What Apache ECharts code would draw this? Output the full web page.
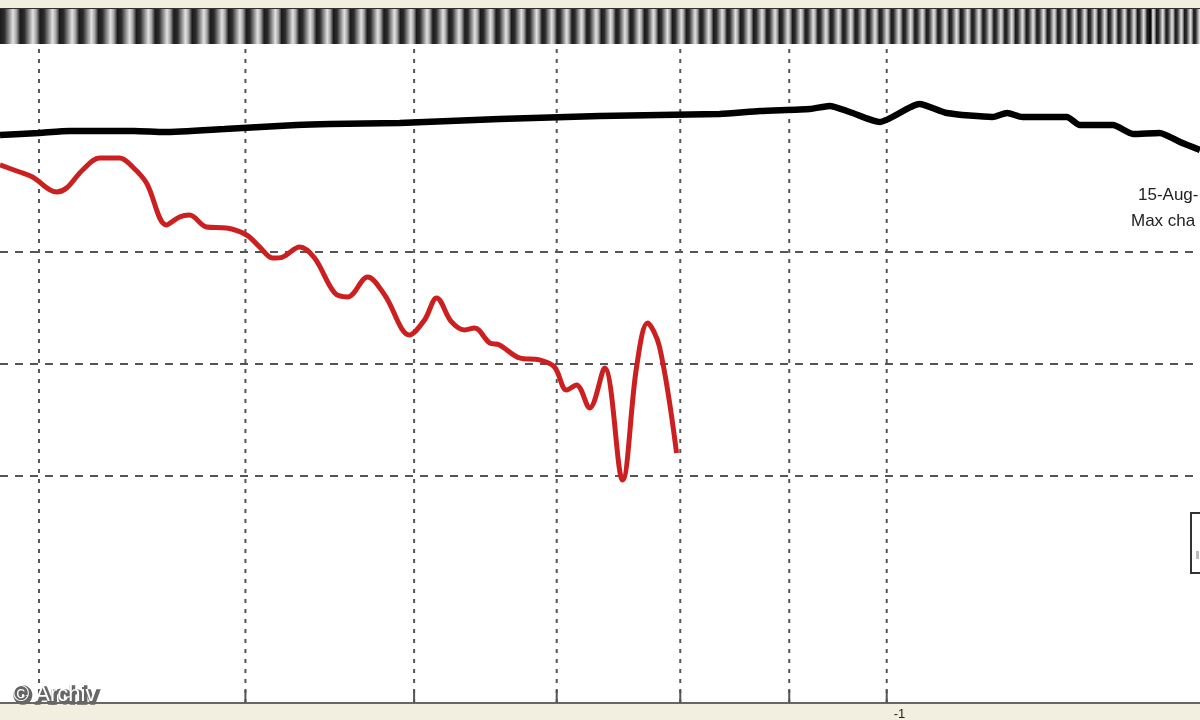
<!DOCTYPE html>
<html>
<head>
<meta charset="utf-8">
<script src="https://cdn.jsdelivr.net/npm/echarts@6/dist/echarts.min.js"></script>
<style>
html,body{margin:0;padding:0;background:#f2eee0;}
#chart{width:1200px;height:720px;}
</style>
</head>
<body>
<div id="chart"></div>
<script>
// ---- data ----
const xMin = 0.03835, xMax = 0.1403;
const yMin = -0.27, yMax = 58.57;

const gridX = [0.04, 0.05, 0.06, 0.07, 0.08, 0.09, 0.1];
const gridY = [20, 30, 40];

const blackX = [0.03835,0.04,0.04135,0.04434,0.0458,0.04888,0.05284,0.05476,0.05907,0.0658,0.07332,0.08347,0.08719,0.09202,0.09402,0.09608,0.09925,0.1036,0.1067,0.1121,0.1139,0.1158,0.1215,0.1232,0.1277,0.1305,0.1343,0.1373,0.1403];
const blackY = [50.45,50.63,50.80,50.80,50.71,50.98,51.34,51.43,51.52,51.88,52.14,52.32,52.59,52.77,53.04,52.50,51.61,53.21,52.41,52.05,52.41,52.05,52.05,51.34,51.34,50.54,50.63,49.82,49.11];

const redX = [0.03835,0.03917,0.03972,0.04077,0.04121,0.04193,0.04271,0.04364,0.04426,0.04493,0.04591,0.04656,0.04707,0.04794,0.04899,0.05006,0.05077,0.05149,0.05205,0.05302,0.05388,0.05506,0.05584,0.05706,0.05812,0.05971,0.06068,0.06148,0.06248,0.06336,0.06405,0.0651,0.0658,0.06724,0.06871,0.06983,0.07075,0.07151,0.07253,0.07372,0.07516,0.07631,0.07722,0.07823,0.07968];
const redY = [47.77,47.14,46.70,45.36,45.71,47.32,48.39,48.39,47.59,46.16,42.41,43.13,43.30,42.23,42.14,41.52,40.45,39.46,39.55,40.45,39.46,36.34,35.98,37.77,36.16,32.59,33.93,35.89,33.75,33.04,33.21,31.88,31.70,30.54,30.36,29.73,27.68,28.13,26.07,29.64,19.64,29.73,33.66,31.52,22.05];

const axisTickLabel = '-1';
const textLines = ['15-Aug-', 'Max cha'];
const credit = '© Archiv';

// ---- build ----
const chart = echarts.init(document.getElementById('chart'));

function zip(a, b) { return a.map((v, i) => [v, b[i]]); }

// striped ruler at top
const stops = [];
{
  let s = 0;
  const W = 1200;
  const pat = [[0,'#1a1a1a'],[0.22,'#2c2c2c'],[0.45,'#8e8e8e'],[0.65,'#e2e2e2'],[0.82,'#a5a5a5'],[0.999,'#262626']];
  while (s < W) {
    const p = 20 - 11 * (s / W);
    pat.forEach(([f, c]) => {
      const pos = Math.min(1, (s + f * p) / W);
      stops.push({ offset: pos, color: c });
    });
    s += p;
  }
}

const option = {
  backgroundColor: '#f2eee0',
  animation: false,
  grid: { left: 0, right: 0, top: 44, bottom: 17, outerBoundsMode: 'none', containLabel: false,
          backgroundColor: '#ffffff', show: true, borderWidth: 0 },
  xAxis: {
    type: 'log', min: xMin, max: xMax, logBase: 10,
    axisLine: { show: true, onZero: false, lineStyle: { color: '#666', width: 2 } },
    axisTick: { show: false },
    splitLine: { show: false },
    minorTick: { show: false },
    axisLabel: {
      show: true, margin: 5, color: '#222', fontSize: 13, fontFamily: 'Liberation Sans, Arial',
      align: 'left', padding: [0, 0, 0, 7], hideOverlap: false,
      formatter: v => Math.abs(v - 0.1) < 1e-6 ? axisTickLabel : ''
    }
  },
  yAxis: {
    type: 'value', min: yMin, max: yMax,
    show: true,
    axisLine: { show: false }, axisTick: { show: false }, axisLabel: { show: false },
    splitLine: { show: false }
  },
  series: [
    {
      type: 'custom', name: 'gridV', silent: true, z: 1,
      data: gridX.map(v => [v, yMin]),
      encode: { x: 0, y: 1 },
      renderItem: (params, api) => {
        const x = api.value(0);
        const p0 = api.coord([x, yMin]);
        const p1 = api.coord([x, yMax]);
        return {
          type: 'group',
          children: [
            { type: 'line', shape: { x1: p0[0], y1: p0[1], x2: p1[0], y2: p1[1] },
              style: { stroke: '#555', lineWidth: 2, lineDash: [4, 6] } },
            { type: 'line', shape: { x1: p0[0], y1: p0[1], x2: p0[0], y2: p0[1] - 13 },
              style: { stroke: '#555', lineWidth: 2 } }
          ]
        };
      }
    },
    {
      type: 'custom', name: 'gridH', silent: true, z: 1,
      data: gridY.map(v => [xMin, v]),
      encode: { x: 0, y: 1 },
      renderItem: (params, api) => {
        const y = api.value(1);
        const p0 = api.coord([xMin, y]);
        const p1 = api.coord([xMax, y]);
        return { type: 'line', shape: { x1: p0[0], y1: p0[1], x2: p1[0], y2: p1[1] },
          style: { stroke: '#555', lineWidth: 2, lineDash: [8, 7] } };
      }
    },
    {
      type: 'line', name: 'red', z: 3,
      data: zip(redX, redY),
      showSymbol: false, smooth: 0.35,
      lineStyle: { color: '#cc2020', width: 5 }
    },
    {
      type: 'line', name: 'black', z: 4,
      data: zip(blackX, blackY),
      showSymbol: false, smooth: 0.2,
      lineStyle: { color: '#000', width: 6.5 }
    }
  ],
  graphic: [
    { type: 'rect', z: 10, shape: { x: 0, y: 0, width: 1200, height: 8 }, style: { fill: '#f2eee0' } },
    { type: 'rect', z: 10, shape: { x: 0, y: 8, width: 1200, height: 36 },
      style: { fill: new echarts.graphic.LinearGradient(0, 0, 1, 0, stops) } },
    { type: 'line', z: 11, shape: { x1: 0, y1: 8.5, x2: 1200, y2: 8.5 }, style: { stroke: '#333', lineWidth: 1 } },
    { type: 'line', z: 11, shape: { x1: 1150, y1: 9, x2: 1150, y2: 44 }, style: { stroke: '#0a0a0a', lineWidth: 3 } },
    { type: 'text', z: 12, left: 1138, top: 187,
      style: { text: textLines[0], fill: '#222', font: '17px "Liberation Sans", Arial' } },
    { type: 'text', z: 12, left: 1131, top: 213,
      style: { text: textLines[1], fill: '#222', font: '17px "Liberation Sans", Arial' } },
    { type: 'rect', z: 12, shape: { x: 1191, y: 513, width: 20, height: 60 },
      style: { fill: '#fff', stroke: '#333', lineWidth: 2 } },
    { type: 'rect', z: 12, shape: { x: 1196, y: 551, width: 3, height: 8 }, style: { fill: '#bbb' } },
    { type: 'text', z: 20, left: 13, top: 684,
      style: { text: credit, fill: '#666', font: '22px "Liberation Sans", Arial',
        stroke: '#666', lineWidth: 3.5 } },
    { type: 'text', z: 21, left: 13, top: 684,
      style: { text: credit, fill: '#ffffff', font: '22px "Liberation Sans", Arial' } }
  ]
};
chart.setOption(option);
</script>
</body>
</html>
